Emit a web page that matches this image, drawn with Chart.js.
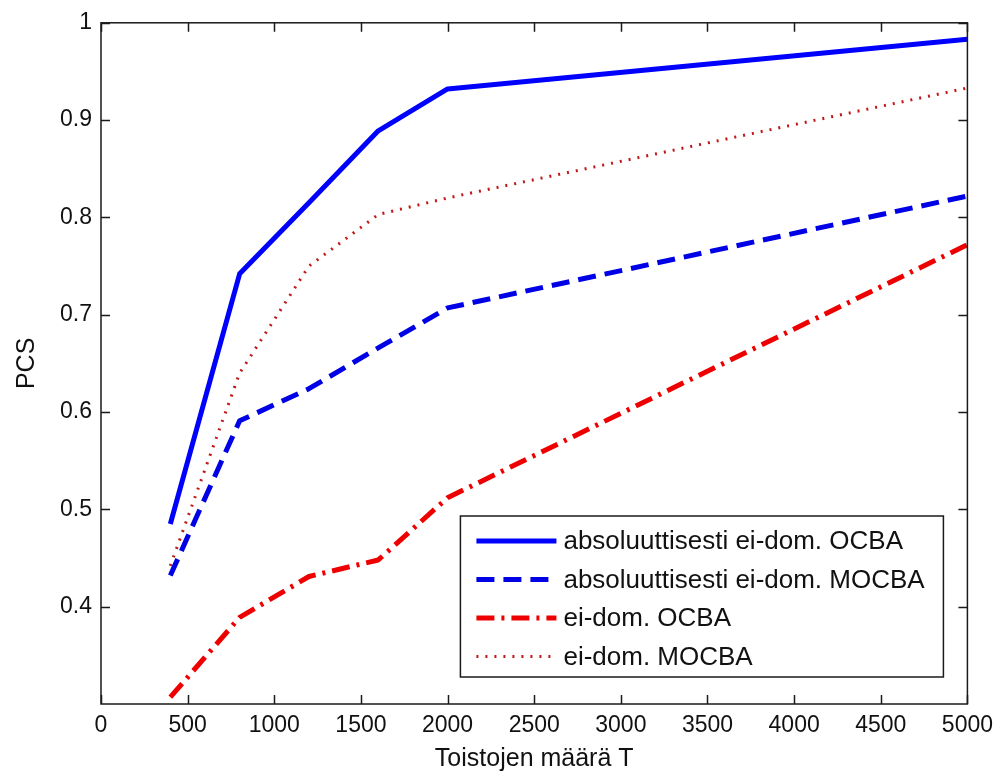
<!DOCTYPE html>
<html>
<head>
<meta charset="utf-8">
<script src="https://cdn.jsdelivr.net/npm/chart.js@4/dist/chart.umd.min.js"></script>
<style>
  html, body { margin: 0; padding: 0; background: #fff; }
  canvas { display: block; }
</style>
</head>
<body>
<canvas id="pcsChart" width="1001" height="774"></canvas>
<script>
// Data
const tValues   = [400, 800, 1200, 1600, 2000, 5000];
const absOcba   = [0.485, 0.742, 0.815, 0.889, 0.932, 0.983];
const absMocba  = [0.432, 0.591, 0.624, 0.666, 0.707, 0.822];
const eiOcba    = [0.307, 0.389, 0.431, 0.448, 0.512, 0.772];
const eiMocba   = [0.442, 0.640, 0.750, 0.803, 0.820, 0.933];

const xTicks = [0, 500, 1000, 1500, 2000, 2500, 3000, 3500, 4000, 4500, 5000];
const yTicks = [0.4, 0.5, 0.6, 0.7, 0.8, 0.9, 1];

const FAMILY = '"Liberation Sans", Arial, sans-serif';
const tickFont = { family: FAMILY, size: 23 };
const titleFont = { family: FAMILY, size: 25 };
const legendSize = 26;

function pts(ys) {
    return tValues.map((t, i) => ({ x: t, y: ys[i] }));
}

// ── MATLAB-style frame with inward ticks on all four sides ──
const boxPlugin = {
    id: 'matlabBox',
    afterDatasetsDraw(chart) {
        const { ctx, chartArea: a, scales } = chart;
        const len = 9;
        ctx.save();
        ctx.strokeStyle = '#1a1a1a';
        ctx.lineWidth = 1.5;
        ctx.strokeRect(a.left, a.top, a.right - a.left, a.bottom - a.top);
        ctx.beginPath();
        xTicks.forEach(v => {
            const px = Math.round(scales.x.getPixelForValue(v)) + 0.5;
            ctx.moveTo(px, a.bottom); ctx.lineTo(px, a.bottom - len);
            ctx.moveTo(px, a.top);    ctx.lineTo(px, a.top + len);
        });
        yTicks.forEach(v => {
            const py = Math.round(scales.y.getPixelForValue(v)) + 0.5;
            ctx.moveTo(a.left, py);  ctx.lineTo(a.left + len, py);
            ctx.moveTo(a.right, py); ctx.lineTo(a.right - len, py);
        });
        ctx.stroke();
        ctx.restore();
    }
};

// ── legend box in the lower right corner ──
const legendPlugin = {
    id: 'boxLegend',
    afterDraw(chart) {
        const { ctx, chartArea: a } = chart;
        const right = a.right - 24, bottom = a.bottom - 27;
        const w = 483, h = 161;
        const left = right - w, top = bottom - h;
        ctx.save();
        ctx.fillStyle = '#fff';
        ctx.fillRect(left, top, w, h);
        ctx.strokeStyle = '#1a1a1a';
        ctx.lineWidth = 1.5;
        ctx.strokeRect(left, top, w, h);
        ctx.font = legendSize + 'px ' + FAMILY;
        ctx.textBaseline = 'middle';
        chart.data.datasets.forEach((ds, i) => {
            const y = top + 25 + i * 38.5;
            ctx.beginPath();
            ctx.strokeStyle = ds.borderColor;
            ctx.lineWidth = ds.borderWidth;
            ctx.setLineDash(ds.borderDash || []);
            ctx.moveTo(left + 16, y);
            ctx.lineTo(left + 96, y);
            ctx.stroke();
            ctx.setLineDash([]);
            ctx.fillStyle = '#111';
            ctx.fillText(ds.label, left + 103, y + 1);
        });
        ctx.restore();
    }
};

new Chart(document.getElementById('pcsChart'), {
    type: 'line',
    data: {
        datasets: [
            { label: 'absoluuttisesti ei-dom. OCBA',  data: pts(absOcba),  borderColor: '#0000ff', borderWidth: 5 },
            { label: 'absoluuttisesti ei-dom. MOCBA', data: pts(absMocba), borderColor: '#0000e6', borderWidth: 5, borderDash: [18, 9] },
            { label: 'ei-dom. OCBA',                  data: pts(eiOcba),   borderColor: '#ee0000', borderWidth: 5, borderDash: [18, 7, 3, 7] },
            { label: 'ei-dom. MOCBA',                 data: pts(eiMocba),  borderColor: '#c01818', borderWidth: 3, borderDash: [2, 7] }
        ]
    },
    options: {
        responsive: false,
        animation: false,
        devicePixelRatio: 1,
        layout: { padding: { top: 20, right: 28, left: 0, bottom: 0 } },
        elements: {
            point: { radius: 0, hoverRadius: 0 },
            line: { tension: 0, fill: false, borderCapStyle: 'butt', borderJoinStyle: 'round' }
        },
        plugins: {
            legend: { display: false },
            tooltip: { enabled: false }
        },
        scales: {
            x: {
                type: 'linear',
                min: 0,
                max: 5000,
                afterBuildTicks: s => { s.ticks = xTicks.map(v => ({ value: v })); },
                afterFit: s => { s.height = 70; },
                grid: { display: false, drawTicks: false },
                border: { display: false },
                ticks: { color: '#111', font: tickFont, padding: 8, maxRotation: 0, callback: v => String(v) },
                title: {
                    display: true,
                    text: 'Toistojen määrä T',
                    color: '#111',
                    font: titleFont,
                    padding: { top: 0, bottom: 0 }
                }
            },
            y: {
                min: 0.3,
                max: 1,
                afterBuildTicks: s => { s.ticks = yTicks.map(v => ({ value: v })); },
                afterFit: s => { s.width = 101; },
                grid: { display: false, drawTicks: false },
                border: { display: false },
                ticks: { color: '#111', font: tickFont, padding: 9, callback: v => String(v) },
                title: {
                    display: true,
                    text: 'PCS',
                    color: '#111',
                    font: titleFont,
                    padding: { top: 12, bottom: 0 }
                }
            }
        }
    },
    plugins: [boxPlugin, legendPlugin]
});
</script>
</body>
</html>
